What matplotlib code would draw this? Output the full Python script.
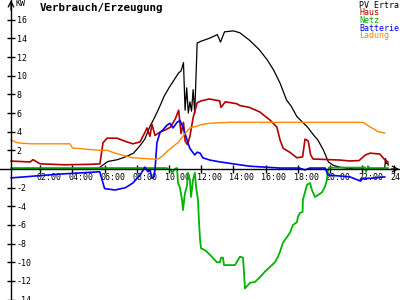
import matplotlib
matplotlib.use('Agg')
import matplotlib.pyplot as plt
import matplotlib.transforms as mtransforms

# hours / kW values
pv_h = [0.2, 5.6, 5.8, 6.2, 6.8, 7.3, 7.8, 8.2, 8.5, 8.8, 9.1, 9.4, 9.7, 10.0, 10.3,
        10.6, 10.75, 10.9, 11.0, 11.1, 11.2, 11.3, 11.4, 11.5, 11.6, 11.75, 12.0, 12.5,
        13.0, 13.2, 13.45, 14.0, 14.4, 15.0, 15.6, 16.1, 16.5, 16.9, 17.3, 17.6, 17.95,
        18.6, 19.0, 19.25, 19.6, 19.9, 20.2, 20.6, 21.0, 21.5, 23.4, 23.45, 23.5, 23.6, 23.62]
pv_v = [0, 0, 0.3, 0.8, 1.0, 1.3, 1.7, 2.5, 3.2, 4.5, 5.5, 6.6, 7.8, 8.7, 9.5,
        10.3, 10.5, 11.4, 6.3, 8.7, 6.0, 7.2, 6.2, 8.5, 6.0, 13.5, 13.7, 14.0,
        14.4, 13.6, 14.7, 14.8, 14.6, 13.8, 12.8, 11.7, 10.6, 9.2, 7.4, 6.7, 5.6,
        4.5, 3.6, 3.1, 2.0, 0.75, 0.4, 0.2, 0.1, 0, 0, 1.1, 0.6, 0.6, 0.4]

haus_h = [0.2, 1.37, 1.55, 2.0, 3.54, 5.09, 5.71, 5.9, 6.15, 6.77, 7.39, 7.76, 8.2, 8.5,
          8.63, 8.82, 8.94, 9.13, 9.5, 9.8, 10.1, 10.4, 10.6, 10.75, 10.9, 11.0, 11.15,
          11.3, 11.5, 11.75, 12.0, 12.5, 13.15, 13.23, 13.5, 14.2, 14.4, 15.0, 15.65,
          16.3, 16.7, 16.9, 17.1, 17.5, 17.95, 18.3, 18.45, 18.65, 18.8, 18.95, 20.6,
          21.2, 21.8, 22.2, 22.5, 23.1, 23.4, 23.6]
haus_v = [0.85, 0.75, 1.0, 0.55, 0.45, 0.5, 0.55, 2.8, 3.3, 3.3, 2.9, 2.7, 2.9, 3.9,
          4.4, 3.5, 4.8, 3.6, 4.0, 4.2, 4.5, 5.4, 6.3, 3.8, 5.0, 3.0, 2.6,
          3.5, 5.5, 7.1, 7.3, 7.5, 7.3, 6.6, 7.2, 7.0, 6.8, 6.6, 6.1,
          5.2, 4.5, 3.1, 2.2, 1.8, 1.2, 1.3, 3.2, 3.0, 1.5, 1.07, 0.96,
          0.86, 0.9, 1.5, 1.7, 1.6, 1.0, 0.75]

netz_h = [0.2, 9.85, 10.1, 10.2, 10.4, 10.5, 10.56, 10.68, 10.81, 10.87, 10.99, 11.12,
          11.18, 11.3, 11.37, 11.49, 11.61, 11.68, 11.8, 11.86, 11.93, 11.99, 12.24,
          12.55, 12.98, 13.17, 13.23, 13.35, 13.42, 14.1, 14.41, 14.6, 14.72, 15.03,
          15.34, 15.65, 15.96, 16.27, 16.58, 16.77, 16.89, 17.08, 17.33, 17.52, 17.7,
          17.95, 18.01, 18.14, 18.3, 18.32, 18.57, 18.76, 18.88, 19.07, 19.25, 19.5,
          19.69, 19.81, 19.88, 19.94, 22.1, 22.17, 22.24, 22.36, 22.45, 23.6]
netz_v = [0.1, 0.1, -0.1, -0.4, 0.05, 0.1, -1.5, -2.0, -3.3, -4.4, -2.6, -1.8,
          -0.4, -1.2, -3.0, -1.2, -0.4, -1.9, -3.3, -5.5, -7.6, -8.5, -8.7,
          -9.2, -10.0, -10.0, -9.5, -9.5, -10.3, -10.3, -9.4, -9.5, -12.8, -12.2,
          -12.1, -11.6, -11.0, -10.5, -10.0, -9.4, -8.9, -7.9, -7.3, -6.8, -6.0,
          -5.7, -5.1, -4.7, -4.6, -3.3, -1.7, -1.5, -2.25, -3.0, -2.8, -2.5,
          -1.9, -1.2, -0.1, 0.15, 0.15, 0.2, -0.3, 0.3, 0.1, 0.1]

batt_h = [0.2, 1.0, 1.7, 3.2, 5.7, 6.0, 6.65, 7.3, 7.76, 8.2, 8.4, 8.5, 8.7, 8.82, 8.94,
          9.05, 9.13, 9.25, 9.44, 9.63, 9.88, 10.06, 10.25, 10.5, 10.68, 10.87, 11.18,
          11.3, 11.6, 11.75, 11.93, 12.1, 12.55, 13.2, 13.8, 15.0, 16.9, 18.1, 18.45,
          18.75, 19.7, 19.88, 20.6, 21.25, 21.9, 22.0, 22.5, 23.4]
batt_v = [-0.95, -0.85, -0.75, -0.55, -0.3, -2.1, -2.25, -2.0, -1.5, -0.65, -0.1, 0.2,
          -0.3, -0.1, -1.0, -0.9, -0.1, 2.8, 3.9, 4.2, 4.7, 4.9, 4.4, 5.0, 5.2, 4.5, 2.8,
          2.2, 1.5, 1.8, 1.7, 1.2, 0.95, 0.75, 0.6, 0.3, 0.1, 0.1, -0.1,
          0.1, 0.1, -0.65, -0.75, -0.85, -1.3, -1.0, -1.0, -0.85]

lad_h = [0.2, 0.6, 1.4, 3.85, 4.0, 5.7, 6.15, 6.65, 7.3, 7.76, 8.2, 9.1, 9.3, 9.6, 9.95,
         10.25, 10.6, 11.0, 11.3, 11.75, 12.0, 12.5, 13.7, 22.05, 22.5, 23.0, 23.4]
lad_v = [3.1, 2.8, 2.7, 2.7, 2.25, 2.0, 2.0, 1.7, 1.4, 1.2, 1.15, 1.05, 1.05, 1.4, 2.0,
         2.4, 2.9, 3.8, 4.4, 4.6, 4.75, 4.9, 5.0, 5.0, 4.5, 4.0, 3.85]

names = ['PV Ertra', 'Haus', 'Netz', 'Batterie', 'Ladung']
colors = ['#000000', '#b40000', '#00b400', '#0000ff', '#ff8800']

xticks = list(range(2, 25, 2))
xlabels = ['%02d:00' % h for h in xticks]
yticks = [v for v in range(-14, 17, 2) if v != 0]

plt.rcParams['font.family'] = 'DejaVu Sans Mono'

fig = plt.figure(figsize=(4, 3), dpi=100)
ax = fig.add_axes([0, 0, 1, 1])
ax.set_xlim(-0.497, 24.35)
ax.set_ylim(-14.04, 18.11)

ax.plot(pv_h, pv_v, color=colors[0], lw=0.9)
ax.plot(haus_h, haus_v, color=colors[1], lw=1.2)
ax.plot(netz_h, netz_v, color=colors[2], lw=1.3)
ax.plot(batt_h, batt_v, color=colors[3], lw=1.2)
ax.plot(lad_h, lad_v, color=colors[4], lw=1.0)

# axes as arrows
yx = 0.186
ax.spines['left'].set_visible(False)
ax.spines['top'].set_visible(False)
ax.spines['right'].set_position(('data', yx))
ax.spines['bottom'].set_position(('data', 0))
ax.spines['right'].set_linewidth(1.0)
ax.spines['bottom'].set_linewidth(1.0)
ax.annotate('', xy=(yx, 18.1), xytext=(yx, 17.0),
            arrowprops=dict(arrowstyle='->', lw=0.9, color='black', shrinkA=0, shrinkB=0))
ax.annotate('', xy=(24.3, 0), xytext=(23.8, 0),
            arrowprops=dict(arrowstyle='->', lw=0.9, color='black', shrinkA=0, shrinkB=0))

ax.yaxis.tick_right()
ax.set_yticks(yticks)
ax.set_yticklabels([str(v) for v in yticks])
ax.tick_params(axis='y', direction='inout', length=6, width=1, labelsize=6, pad=1)
ax.set_xticks(xticks)
ax.set_xticklabels(xlabels, ha='left')
ax.tick_params(axis='x', direction='inout', length=6, width=1, labelsize=6, pad=0)
shift = mtransforms.ScaledTranslation(-3 / 72, 0, fig.dpi_scale_trans)
for lab in ax.get_xticklabels():
    lab.set_transform(lab.get_transform() + shift)

fig.text(15 / 400, 1 - 4 / 300, 'KW', fontsize=6, va='center', ha='left')
fig.text(40 / 400, 1 - 8 / 300, 'Verbrauch/Erzeugung', fontsize=7.8,
         fontweight='bold', va='center', ha='left')

for i, (n, c) in enumerate(zip(names, colors)):
    fig.text(359 / 400, 1 - (5 + 7.7 * i) / 300, n, color=c, fontsize=6,
             va='center', ha='left')

fig.savefig('out.png', dpi=100)
